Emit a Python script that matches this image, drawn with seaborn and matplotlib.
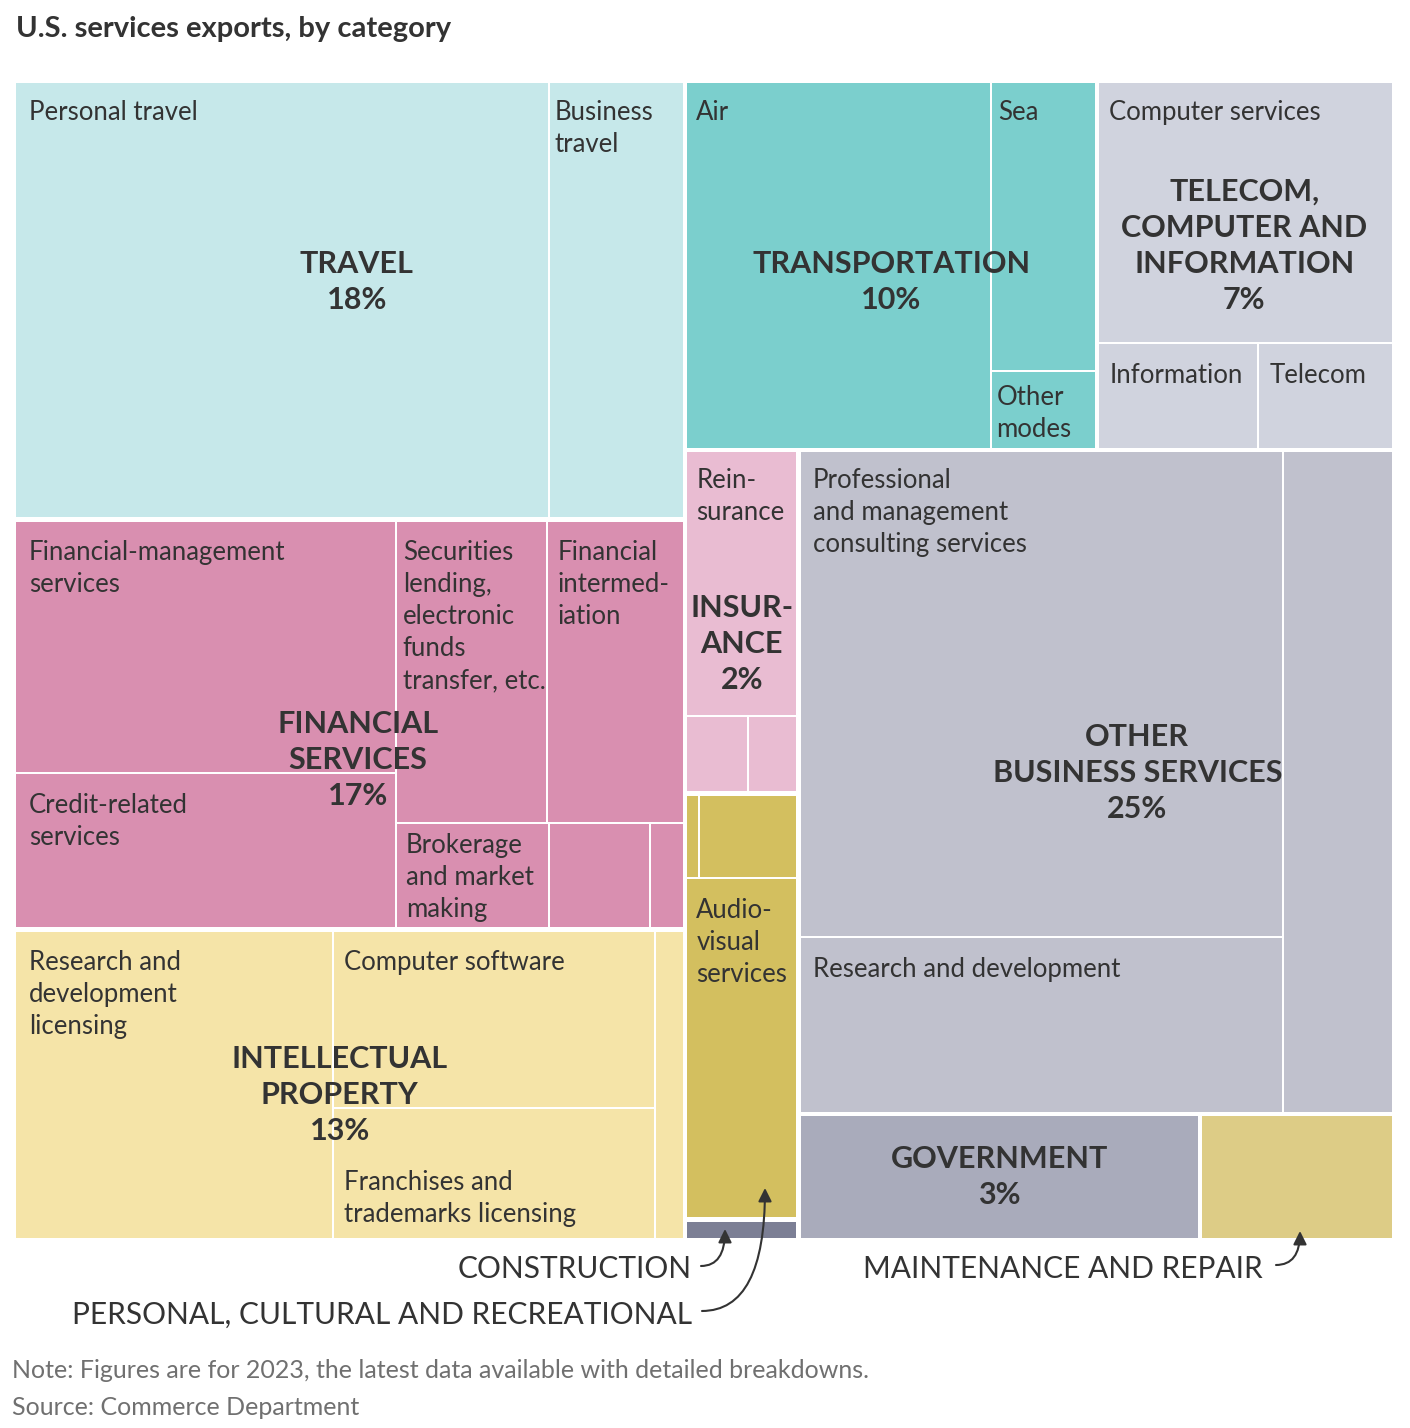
import matplotlib
matplotlib.use("Agg")
import matplotlib.pyplot as plt
import seaborn as sns
from matplotlib.patches import Rectangle

# ---------------- data (approx. $ billions, 2023) ----------------
travel_names = ["Personal travel", "Business\ntravel"]
travel_vals = [151.0, 38.0]

fin_names = ["Financial-management\nservices", "Credit-related\nservices",
             "Securities\nlending,\nelectronic\nfunds\ntransfer, etc.",
             "Financial\nintermed-\niation", "Brokerage\nand market\nmaking", "", ""]
fin_vals = [62.2, 38.3, 29.7, 26.7, 10.4, 6.9, 2.3]

ip_names = ["Research and\ndevelopment\nlicensing", "Computer software",
            "Franchises and\ntrademarks licensing", ""]
ip_vals = [63.6, 37.1, 27.5, 5.7]

trans_names = ["Air", "Sea", "Other\nmodes"]
trans_vals = [72.7, 19.6, 5.3]

tci_names = ["Computer services", "Information", "Telecom"]
tci_vals = [50.1, 11.0, 9.3]

ins_names = ["Rein-\nsurance", "", ""]
ins_vals = [19.4, 3.1, 2.5]

pcr_names = ["", "", "Audio-\nvisual\nservices"]
pcr_vals = [0.7, 5.4, 24.9]

constr_names = [""]
constr_vals = [1.5]

obs_names = ["Professional\nand management\nconsulting services", "Research and development", ""]
obs_vals = [152.0, 55.0, 47.0]

gov_names = [""]
gov_vals = [32.5]

mr_names = [""]
mr_vals = [15.7]

category_labels = ["TRAVEL", "FINANCIAL\nSERVICES", "INTELLECTUAL\nPROPERTY", "TRANSPORTATION",
                   "TELECOM,\nCOMPUTER AND\nINFORMATION", "INSUR-\nANCE", None, None,
                   "OTHER\nBUSINESS SERVICES", "GOVERNMENT", None]
sub_names = [travel_names, fin_names, ip_names, trans_names, tci_names, ins_names,
             pcr_names, constr_names, obs_names, gov_names, mr_names]
sub_vals = [travel_vals, fin_vals, ip_vals, trans_vals, tci_vals, ins_vals,
            pcr_vals, constr_vals, obs_vals, gov_vals, mr_vals]
colors = ["#c6e8ea", "#d98fb0", "#f5e4a8", "#7bcfcd", "#d0d3de", "#e9bcd2",
          "#d3bf5f", "#7c7f95", "#c0c1cd", "#a9abbb", "#ddcc86"]

# ---------------- layout recipe (split directions only) ----------------
TOP = ('h', [('v', [0, 1, 2]),
             ('v', [('h', [3, 4]),
                    ('h', [('v', [5, 6, 7]), ('v', [8, ('h', [9, 10])])])])])
SUB = [('h', [0, 1]),
       ('h', [('v', [0, 1]), ('v', [('h', [2, 3]), ('h', [4, 5, 6])])]),
       ('h', [0, ('v', [1, 2]), 3]),
       ('h', [0, ('v', [1, 2])]),
       ('v', [0, ('h', [1, 2])]),
       ('v', [0, ('h', [1, 2])]),
       ('v', [('h', [0, 1]), 2]),
       0,
       ('h', [('v', [0, 1]), 2]),
       0,
       0]


def node_total(node, vals):
    if isinstance(node, int):
        return vals[node]
    return sum(node_total(c, vals) for c in node[1])


def split(node, x, y, w, h, vals, out):
    if isinstance(node, int):
        out[node] = (x, y, w, h)
        return
    d, kids = node
    tot = sum(node_total(k, vals) for k in kids)
    pos = x if d == 'h' else y
    for k in kids:
        f = node_total(k, vals) / tot
        if d == 'h':
            split(k, pos, y, w * f, h, vals, out)
            pos += w * f
        else:
            split(k, x, pos, w, h * f, vals, out)
            pos += h * f


cat_totals = [sum(v) for v in sub_vals]
grand = sum(cat_totals)

# ---------------- figure ----------------
sns.set_theme(style="white")
plt.rcParams['font.family'] = ['Lato', 'DejaVu Sans']
TXT = "#333333"

fig = plt.figure(figsize=(14.1, 14.28), dpi=100)
ax = fig.add_axes([0, 0, 1, 1])
ax.set_xlim(0, 1410)
ax.set_ylim(1428, 0)
ax.axis('off')

G = 2.25   # half gap between categories
g = 1.0    # half gap between sub-categories
root = (16 - G, 83 - G, 1376 + 2 * G, 1155 + 2 * G)
groups = {}
split(TOP, *root, cat_totals, groups)

# label placement tweaks: (cat, leaf) -> (pad_x, baseline offset)
leaf_pad = {(0, 0): (13, 37), (0, 1): (4, 37), (1, 0): (13, 38), (1, 1): (13, 39),
            (1, 2): (6, 38), (1, 3): (9, 38), (1, 4): (9, 29),
            (2, 0): (13, 38), (2, 1): (10, 38), (2, 2): (10, 81),
            (3, 0): (9, 37), (3, 1): (6, 37), (3, 2): (4, 33),
            (4, 0): (10, 37), (4, 1): (10, 39), (4, 2): (11, 39),
            (5, 0): (9, 36), (6, 2): (9, 39), (8, 0): (12, 36), (8, 1): (12, 39)}
# category label offsets from group centre
cat_off = {0: (7.5, -20.5), 1: (8.5, 34), 2: (-9.5, 8), 3: (0.5, 14.5),
           4: (-1.5, -21.5), 5: (0, 20), 8: (41, -11), 9: (0.5, -2)}

for ci, (gx, gy, gw, gh) in groups.items():
    vx, vy, vw, vh = gx + G, gy + G, gw - 2 * G, gh - 2 * G
    leaves = {}
    split(SUB[ci], vx - g, vy - g, vw + 2 * g, vh + 2 * g, sub_vals[ci], leaves)
    for li, (x, y, w, h) in leaves.items():
        ax.add_patch(Rectangle((x + g, y + g), w - 2 * g, h - 2 * g,
                               facecolor=colors[ci], edgecolor='none', zorder=1))
        name = sub_names[ci][li]
        if name:
            px, by = leaf_pad.get((ci, li), (11, 38))
            for k, line in enumerate(name.split("\n")):
                ax.text(x + g + px, y + g + by + 32 * k, line, fontsize=18.5,
                        color=TXT, ha='left', va='baseline', zorder=3)
    lab = category_labels[ci]
    if lab:
        pct = round(100 * cat_totals[ci] / grand)
        lines = lab.split("\n") + [f"{pct}%"]
        dx, dy = cat_off[ci]
        cx = vx + vw / 2 + dx
        cy = vy + vh / 2 + dy
        n = len(lines)
        for k, line in enumerate(lines):
            yy = cy + (k - (n - 1) / 2) * 36
            ax.text(cx, yy + 11, line, fontsize=22, fontweight='bold', color=TXT,
                    ha='center', va='baseline', zorder=4)

# ---------------- annotations ----------------
ann_fs = 21.5
ax.text(692, 1278, "CONSTRUCTION", fontsize=ann_fs, color=TXT, ha='right', va='baseline')
ax.text(692, 1324, "PERSONAL, CULTURAL AND RECREATIONAL", fontsize=ann_fs, color=TXT,
        ha='right', va='baseline')
ax.text(1263, 1278, "MAINTENANCE AND REPAIR", fontsize=ann_fs, color=TXT,
        ha='right', va='baseline')

arrow = dict(arrowstyle='-|>,head_length=0.4,head_width=0.2', color=TXT, lw=1.5,
             mutation_scale=20, shrinkA=0, shrinkB=0,
             connectionstyle='angle3,angleA=0,angleB=90')
ax.annotate("", xy=(725, 1229), xytext=(701, 1266), arrowprops=arrow)
ax.annotate("", xy=(765, 1188), xytext=(702, 1311), arrowprops=arrow)
ax.annotate("", xy=(1300, 1231), xytext=(1276, 1265), arrowprops=arrow)

# ---------------- title & footer ----------------
ax.text(16, 37, "U.S. services exports, by category", fontsize=21, fontweight='bold',
        color=TXT, ha='left', va='baseline')
ax.text(12, 1378, "Note: Figures are for 2023, the latest data available with detailed breakdowns.",
        fontsize=18, color="#707070", ha='left', va='baseline')
ax.text(12, 1415, "Source: Commerce Department", fontsize=18, color="#707070",
        ha='left', va='baseline')

fig.savefig("out.png", dpi=100)
